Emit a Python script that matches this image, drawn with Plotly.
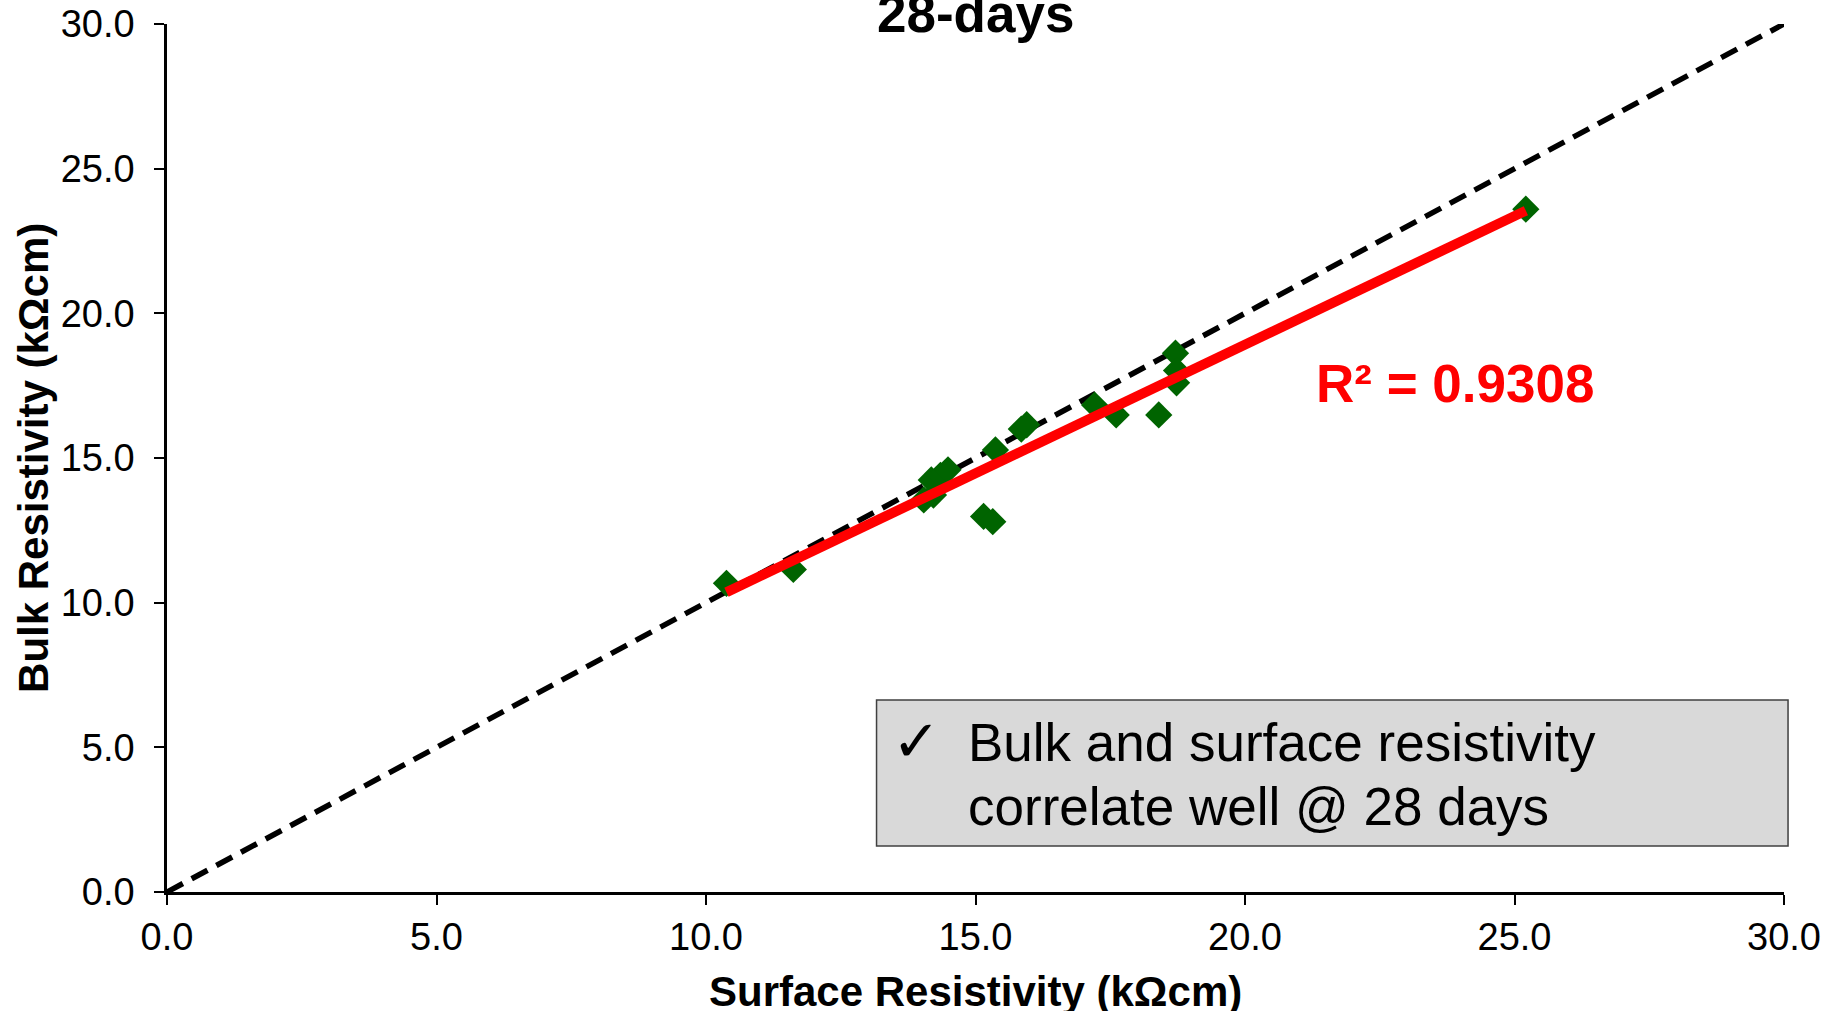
import numpy as np
import plotly.graph_objects as go

# Resistivity measurements at 28 days (kΩcm)
surface = [10.38, 11.62, 14.04, 14.22, 14.18, 14.35, 14.49, 15.15, 15.32, 15.37,
           15.85, 15.95, 17.21, 17.61, 18.40, 18.71, 18.73, 18.73, 25.21]
bulk = [10.67, 11.15, 13.55, 13.72, 14.24, 14.40, 14.59, 12.98, 12.80, 15.28,
        16.00, 16.15, 16.83, 16.49, 16.49, 18.62, 18.02, 17.60, 23.60]

equality_line = [0.0, 30.0]
tick_values = [0, 5, 10, 15, 20, 25, 30]
r2_label = "R² = 0.9308"
title_text = "28-days"
x_title = "Surface Resistivity (kΩcm)"
y_title = "Bulk Resistivity (kΩcm)"
note_lines = ["Bulk and surface resistivity", "correlate well @ 28 days"]

FONT = "Liberation Sans, Arial, sans-serif"

# Least-squares trendline through the measurements
slope, intercept = np.polyfit(surface, bulk, 1)
fit_x = [min(surface), max(surface)]
fit_y = [slope * v + intercept for v in fit_x]

fig = go.Figure()

# 1:1 reference line
fig.add_trace(go.Scatter(
    x=equality_line, y=equality_line, mode="lines",
    line=dict(color="black", width=5.5, dash="18px,10px"),
    hoverinfo="skip", showlegend=False,
))

# Measured pairs
fig.add_trace(go.Scatter(
    x=surface, y=bulk, mode="markers",
    marker=dict(symbol="diamond", size=21, color="#006400", line=dict(width=0)),
    showlegend=False,
))

# Linear trendline
fig.add_trace(go.Scatter(
    x=fit_x, y=fit_y, mode="lines",
    line=dict(color="#ff0000", width=10),
    hoverinfo="skip", showlegend=False,
))

axis_common = dict(
    range=[0, 30],
    tickvals=tick_values,
    tickformat=".1f",
    showline=True, linecolor="black", linewidth=2.5,
    ticks="outside", ticklen=10, tickwidth=2, tickcolor="black",
    showgrid=False, zeroline=False,
    tickfont=dict(family=FONT, size=38, color="black"),
    automargin=False,
)

fig.update_layout(
    width=1835, height=1011,
    margin=dict(l=167, r=51, t=24, b=119),
    paper_bgcolor="white", plot_bgcolor="white",
    font=dict(family=FONT, color="black"),
    xaxis=dict(**axis_common, ticklabelstandoff=0),
    yaxis=dict(**axis_common, ticklabelstandoff=12),
)

# Note box
fig.add_shape(
    type="rect", xref="paper", yref="paper",
    x0=0.4388, x1=1.0025, y0=0.053, y1=0.2212,
    fillcolor="#d9d9d9", line=dict(color="#404040", width=1.5),
    layer="above",
)

annotations = [
    dict(text=f"<b>{title_text}</b>", x=0.5, y=1.012, xref="paper", yref="paper",
         xanchor="center", yanchor="middle", showarrow=False,
         font=dict(family=FONT, size=53, color="black")),
    dict(text=f"<b>{x_title}</b>", x=0.5, y=-0.1152, xref="paper", yref="paper",
         xanchor="center", yanchor="middle", showarrow=False,
         font=dict(family=FONT, size=42, color="black")),
    dict(text=f"<b>{y_title}</b>", x=-0.0829, y=0.5, xref="paper", yref="paper",
         xanchor="center", yanchor="middle", textangle=-90, showarrow=False,
         font=dict(family=FONT, size=42, color="black")),
    dict(text=f"<b>{r2_label}</b>", x=0.7965, y=0.5864, xref="paper", yref="paper",
         xanchor="center", yanchor="middle", showarrow=False,
         font=dict(family=FONT, size=53, color="#ff0000")),
    dict(text="✓", x=0.4638, y=0.174, xref="paper", yref="paper",
         xanchor="center", yanchor="middle", showarrow=False,
         font=dict(family="DejaVu Sans, sans-serif", size=58, color="black")),
    dict(text=note_lines[0], x=0.494, y=0.172, xref="paper", yref="paper",
         xanchor="left", yanchor="middle", showarrow=False,
         font=dict(family=FONT, size=53, color="black")),
    dict(text=note_lines[1], x=0.494, y=0.099, xref="paper", yref="paper",
         xanchor="left", yanchor="middle", showarrow=False,
         font=dict(family=FONT, size=53, color="black")),
]
fig.update_layout(annotations=annotations)

fig.write_html("out.html")
